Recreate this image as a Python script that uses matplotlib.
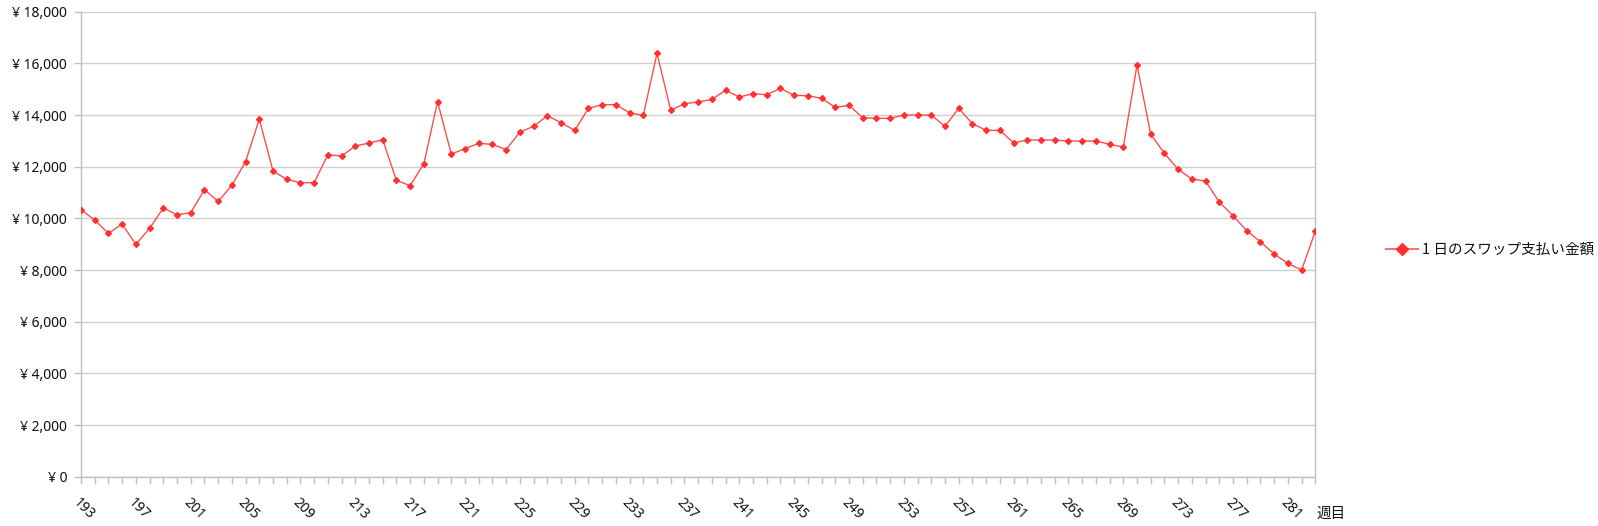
import matplotlib
matplotlib.use("Agg")
import matplotlib.pyplot as plt
from matplotlib.lines import Line2D
from matplotlib.ticker import FuncFormatter

plt.rcParams['font.family'] = ['Noto Sans', 'Noto Sans CJK JP', 'DejaVu Sans']

weeks = list(range(193, 284))
swap_yen = [
    10336, 9935, 9419, 9781, 8994, 9613, 10400, 10142, 10219, 11110,
    10658, 11277, 12194, 13845, 11832, 11510, 11381, 11381, 12465, 12413,
    12800, 12916, 13045, 11471, 11265, 12116, 14516, 12490, 12697, 12903,
    12865, 12658, 13342, 13561, 13974, 13703, 13406, 14258, 14400, 14400,
    14090, 13987, 16387, 14181, 14439, 14503, 14606, 14955, 14697, 14826,
    14787, 15032, 14761, 14748, 14645, 14297, 14374, 13897, 13871, 13871,
    14000, 14000, 14000, 13561, 14258, 13665, 13406, 13406, 12929, 13032,
    13032, 13032, 12994, 12994, 12994, 12865, 12761, 15935, 13252, 12516,
    11897, 11523, 11445, 10632, 10103, 9523, 9097, 8619, 8258, 8000,
    9497,
]
series_label = "1 日のスワップ支払い金額"
x_title = "週目"
y_ticks = list(range(0, 18001, 2000))
label_step = 4

W, H, DPI = 1598, 526, 100
fig = plt.figure(figsize=(W / DPI, H / DPI), dpi=DPI)
left, right, top, bottom = 81 / W, 1315.3 / W, 11.7 / H, 476.7 / H
ax = fig.add_axes([left, 1 - bottom, right - left, bottom - top])

line_color = '#ff4d4d'
ax.plot(weeks, swap_yen, color=line_color, lw=1.0, marker='D', markersize=3,
        markerfacecolor='#ff3030', markeredgecolor='#ff3030', zorder=3)

ax.set_xlim(weeks[0], weeks[-1])
ax.set_ylim(y_ticks[0], y_ticks[-1])
ax.set_yticks(y_ticks)
ax.yaxis.set_major_formatter(FuncFormatter(lambda v, p: "¥ {:,}".format(int(v))))
ax.set_xticks(weeks)
ax.set_xticklabels([str(w) if (w - weeks[0]) % label_step == 0 else '' for w in weeks])

grid_c = '#d0d0d0'
ax.grid(axis='y', color=grid_c, lw=1.0, zorder=0)
ax.set_axisbelow(True)
for s in ['left', 'bottom', 'right']:
    ax.spines[s].set_color('#c0c0c0')
    ax.spines[s].set_linewidth(1.0)
ax.spines['top'].set_visible(False)

txt_c = '#111111'
ax.tick_params(axis='y', length=5, width=1, color='#c0c0c0', pad=5,
               labelsize=10, labelcolor=txt_c)
ax.tick_params(axis='x', length=5, width=1, color='#c0c0c0', pad=8,
               labelsize=10, labelcolor=txt_c)
for lbl in ax.get_xticklabels():
    lbl.set_rotation(-45)
    lbl.set_ha('left')
    lbl.set_va('top')
    lbl.set_rotation_mode('anchor')

fig.text(1316 / W, 1 - 514 / H, x_title, fontsize=10.5, color=txt_c,
         ha='left', va='center', family=['Noto Sans CJK JP', 'DejaVu Sans'])

proxy = Line2D([], [], color='#ff7070', lw=1.5, marker='D', markersize=6,
               markerfacecolor='#ff3030', markeredgecolor='#ff3030')
ax.legend(handles=[proxy], labels=[series_label], loc='center left',
          bbox_to_anchor=(1386 / W, 1 - 250 / H), bbox_transform=fig.transFigure,
          frameon=False, handlelength=2.2, handletextpad=0.3,
          borderpad=0, borderaxespad=0, labelcolor=txt_c,
          prop={'family': ['Noto Sans CJK JP', 'DejaVu Sans'], 'size': 10.5})

fig.savefig('out.png', dpi=DPI)
